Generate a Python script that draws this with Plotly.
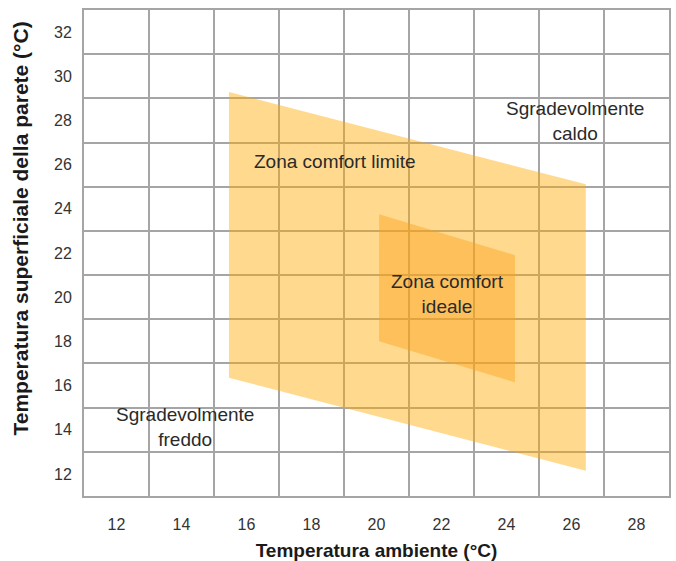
import plotly.graph_objects as go

# ---- data ----
x_ticks = [12, 14, 16, 18, 20, 22, 24, 26, 28]
y_ticks = [12, 14, 16, 18, 20, 22, 24, 26, 28, 30, 32]
x_grid = [11, 13, 15, 17, 19, 21, 23, 25, 27, 29]
y_grid = [11, 13, 15, 17, 19, 21, 23, 25, 27, 29, 31, 33]

limit_x = [15.46, 15.46, 26.44, 26.44]
limit_y = [29.29, 16.35, 12.14, 25.11]
ideal_x = [20.08, 20.08, 24.26, 24.26]
ideal_y = [23.75, 18.01, 16.15, 21.90]

labels = [
    ("Zona comfort limite", 18.72, 26.12),
    ("Zona comfort<br>ideale", 22.17, 20.14),
    ("Sgradevolmente<br>caldo", 26.10, 27.99),
    ("Sgradevolmente<br>freddo", 14.10, 14.13),
]

FONT = "Liberation Sans, Arial, sans-serif"
GRID = "#a5a5a8"

fig = go.Figure()
fig.add_trace(go.Scatter(
    x=limit_x + [limit_x[0]], y=limit_y + [limit_y[0]],
    fill="toself", fillcolor="rgba(255,171,4,0.45)",
    line=dict(width=0), mode="lines", hoverinfo="skip", showlegend=False,
    name="Zona comfort limite"))
fig.add_trace(go.Scatter(
    x=ideal_x + [ideal_x[0]], y=ideal_y + [ideal_y[0]],
    fill="toself", fillcolor="rgba(251,161,26,0.45)",
    line=dict(width=0), mode="lines", hoverinfo="skip", showlegend=False,
    name="Zona comfort ideale"))

for txt, x, y in labels:
    fig.add_annotation(x=x, y=y, xref="x", yref="y", text=txt, showarrow=False,
                       font=dict(family=FONT, size=19, color="#2a2a2a"),
                       xanchor="center", yanchor="middle", align="center")

# y-axis title (placed as in the reference, slightly above plot centre)
fig.add_annotation(x=-0.108, y=0.55, xref="paper", yref="paper",
                   text="<b>Temperatura superficiale della parete (°C)</b>",
                   textangle=-90, showarrow=False,
                   font=dict(family=FONT, size=21, color="#1a1a1a"),
                   xanchor="center", yanchor="middle")

fig.update_xaxes(
    range=[11, 29], tickmode="array", tickvals=x_ticks,
    ticktext=[str(v) for v in x_ticks], showgrid=False, zeroline=False,
    ticks="outside", ticklen=13, tickcolor="rgba(0,0,0,0)",
    tickfont=dict(family=FONT, size=16, color="#333333"),
    showline=True, mirror=True, linecolor=GRID, linewidth=2,
    minor=dict(tickmode="array", tickvals=x_grid, showgrid=True,
               gridcolor=GRID, gridwidth=2, ticks=""),
    title=dict(text="<b>Temperatura ambiente (°C)</b>", standoff=16,
               font=dict(family=FONT, size=19, color="#1a1a1a")),
)
fig.update_yaxes(
    range=[11, 33], tickmode="array", tickvals=y_ticks,
    ticktext=[str(v) for v in y_ticks], showgrid=False, zeroline=False,
    ticks="outside", ticklen=7, tickcolor="rgba(0,0,0,0)",
    tickfont=dict(family=FONT, size=16, color="#333333"),
    showline=True, mirror=True, linecolor=GRID, linewidth=2,
    minor=dict(tickmode="array", tickvals=y_grid, showgrid=True,
               gridcolor=GRID, gridwidth=2, ticks=""),
)
fig.update_layout(
    width=676, height=561,
    margin=dict(l=84, r=7, t=10, b=65, autoexpand=False),
    plot_bgcolor="white", paper_bgcolor="white",
    showlegend=False,
)
fig.write_html(
    "out.html",
    config={"displayModeBar": False},
    post_script="document.body.style.margin='0';document.body.style.overflow='hidden';",
)
